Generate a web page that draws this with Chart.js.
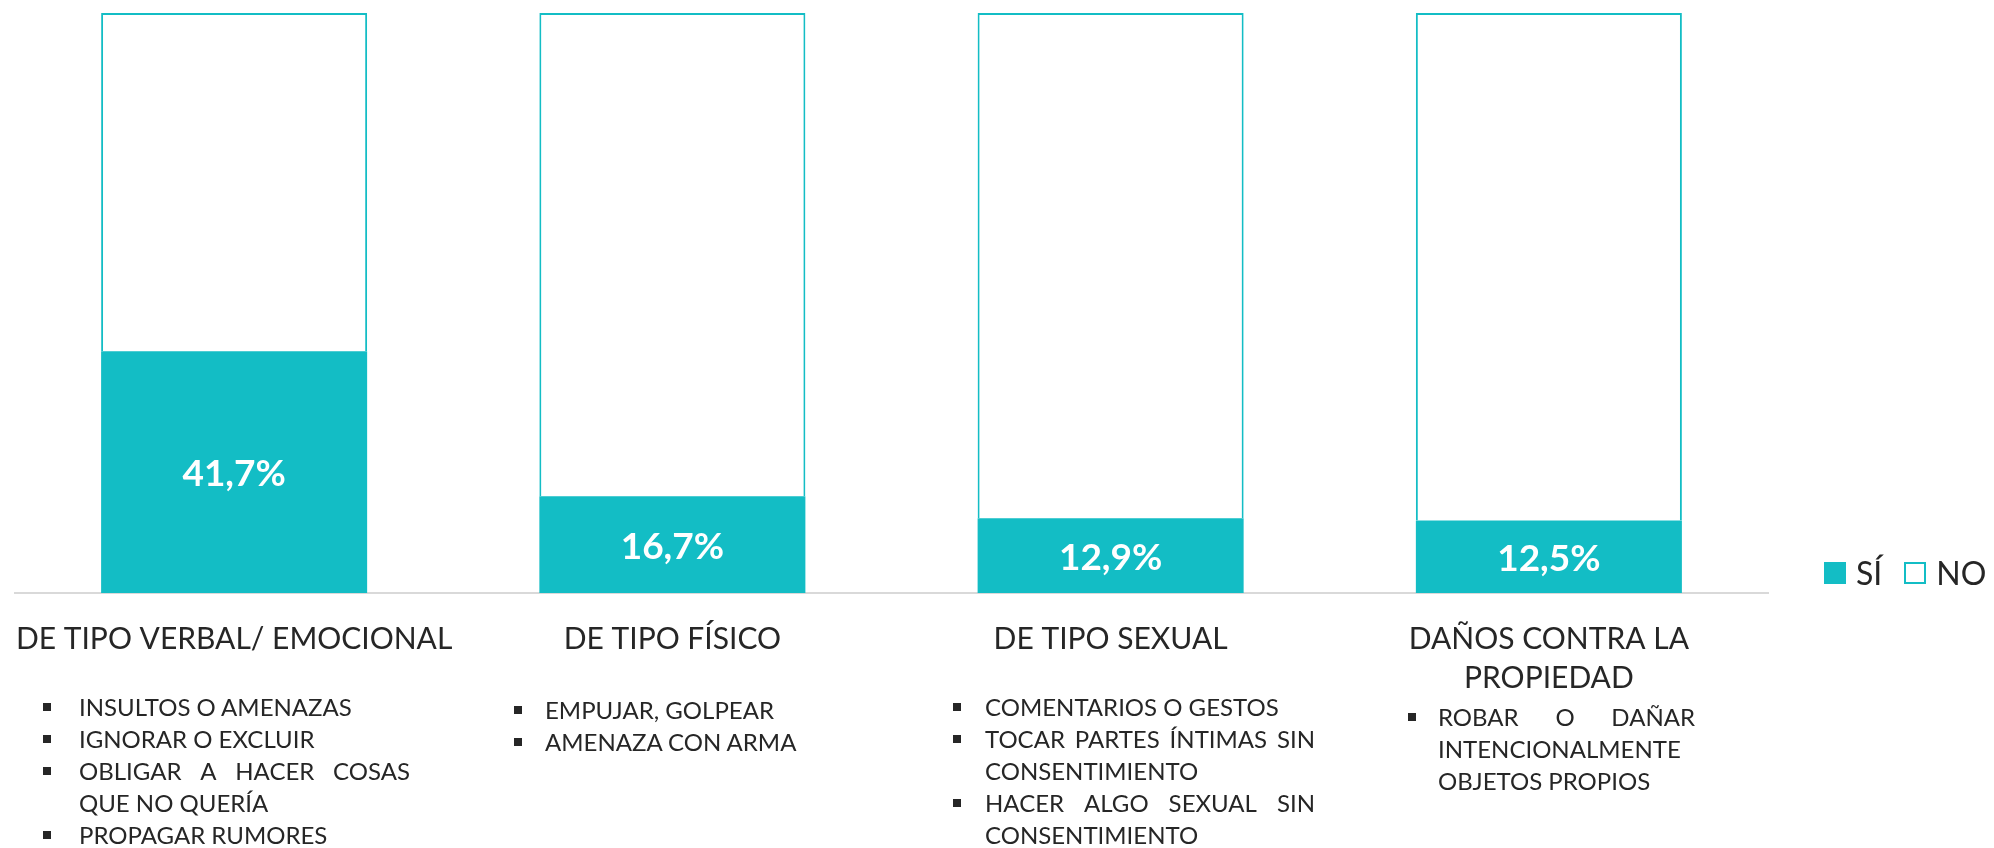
<!DOCTYPE html>
<html lang="es">
<head>
    <meta charset="UTF-8">
    <title>Tipos de violencia</title>
    <script src="https://cdn.jsdelivr.net/npm/chart.js"></script>
    <style>
        body {
            margin: 0;
            background: #fff;
            font-family: Lato, sans-serif;
            color: #262626;
        }
        .lienzo {
            position: relative;
            width: 1994px;
            height: 848px;
            overflow: hidden;
        }
        .lista {
            position: absolute;
            font-size: 24px;
            line-height: 32px;
        }
        .linea {
            white-space: nowrap;
            height: 32px;
        }
        .justificada {
            display: flex;
            justify-content: space-between;
            gap: 6px;
        }
        .vineta {
            position: absolute;
            width: 8px;
            height: 8px;
            background: #262626;
        }
        .leyenda {
            position: absolute;
            left: 1824px;
            top: 556px;
            display: flex;
            align-items: center;
            font-size: 32px;
            line-height: 34px;
        }
        .cuadro {
            width: 22px;
            height: 22px;
            box-sizing: border-box;
            margin-right: 10px;
        }
    </style>
</head>
<body>
<div class="lienzo" id="lienzo">
    <canvas id="grafico"></canvas>
    <div class="leyenda" id="leyenda"></div>
</div>

<script>
    // datos
    const categorias = ['DE TIPO VERBAL/ EMOCIONAL', 'DE TIPO FÍSICO', 'DE TIPO SEXUAL', ['DAÑOS CONTRA LA', 'PROPIEDAD']];
    const series = ['SÍ', 'NO'];
    const valoresSi = [41.7, 16.7, 12.9, 12.5];
    const valoresNo = [58.3, 83.3, 87.1, 87.5];

    // detalle de cada tipo (una línea por elemento del arreglo interno)
    const listaVerbal = [['INSULTOS O AMENAZAS'], ['IGNORAR O EXCLUIR'], ['OBLIGAR A HACER COSAS', 'QUE NO QUERÍA'], ['PROPAGAR RUMORES']];
    const listaFisico = [['EMPUJAR, GOLPEAR'], ['AMENAZA CON ARMA']];
    const listaSexual = [['COMENTARIOS O GESTOS'], ['TOCAR PARTES ÍNTIMAS SIN', 'CONSENTIMIENTO'], ['HACER ALGO SEXUAL SIN', 'CONSENTIMIENTO']];
    const listaDanos = [['ROBAR O DAÑAR', 'INTENCIONALMENTE', 'OBJETOS PROPIOS']];

    const turquesa = '#13BDC5';

    // posiciones de las listas debajo del eje
    const listas = [
        { items: listaVerbal, vineta: 43, texto: 79, ancho: 331, arriba: 691 },
        { items: listaFisico, vineta: 514, texto: 545, ancho: 300, arriba: 694 },
        { items: listaSexual, vineta: 953, texto: 985, ancho: 330, arriba: 691 },
        { items: listaDanos, vineta: 1408, texto: 1438, ancho: 257, arriba: 701 }
    ];

    const lienzo = document.getElementById('lienzo');
    listas.forEach(l => {
        const caja = document.createElement('div');
        caja.className = 'lista';
        caja.style.left = l.texto + 'px';
        caja.style.top = l.arriba + 'px';
        caja.style.width = l.ancho + 'px';
        let fila = 0;
        l.items.forEach(item => {
            const v = document.createElement('div');
            v.className = 'vineta';
            v.style.left = (l.vineta - l.texto) + 'px';
            v.style.top = (fila * 32 + 12) + 'px';
            caja.appendChild(v);
            item.forEach((txt, j) => {
                const d = document.createElement('div');
                if (j < item.length - 1) {
                    // líneas justificadas como en el original
                    d.className = 'linea justificada';
                    txt.split(' ').forEach(p => {
                        const s = document.createElement('span');
                        s.textContent = p;
                        d.appendChild(s);
                    });
                } else {
                    d.className = 'linea';
                    d.textContent = txt;
                }
                caja.appendChild(d);
                fila++;
            });
        });
        lienzo.appendChild(caja);
    });

    // leyenda
    const leyenda = document.getElementById('leyenda');
    series.forEach((s, i) => {
        const c = document.createElement('div');
        c.className = 'cuadro';
        if (i === 0) {
            c.style.background = turquesa;
        } else {
            c.style.background = '#fff';
            c.style.border = '2px solid ' + turquesa;
        }
        const t = document.createElement('span');
        t.textContent = s;
        t.style.marginRight = i === 0 ? '22px' : '0';
        leyenda.appendChild(c);
        leyenda.appendChild(t);
    });

    // etiquetas de porcentaje dentro de las barras "SÍ"
    const etiquetas = {
        id: 'etiquetas',
        afterDatasetsDraw(chart) {
            const ctx = chart.ctx;
            const meta = chart.getDatasetMeta(0);
            ctx.save();
            ctx.fillStyle = '#ffffff';
            ctx.font = 'bold 37px Lato';
            ctx.textAlign = 'center';
            ctx.textBaseline = 'middle';
            meta.data.forEach((barra, i) => {
                const p = barra.getProps(['x', 'y', 'base'], true);
                const txt = valoresSi[i].toFixed(1).replace('.', ',') + '%';
                ctx.fillText(txt, p.x, (p.y + p.base) / 2 + 2);
            });
            ctx.restore();
        }
    };

    function dibujar() {
        new Chart(document.getElementById('grafico'), {
            type: 'bar',
            data: {
                labels: categorias,
                datasets: [
                    {
                        label: series[0],
                        data: valoresSi,
                        backgroundColor: turquesa,
                        borderWidth: 0
                    },
                    {
                        label: series[1],
                        data: valoresNo,
                        backgroundColor: '#ffffff',
                        borderColor: turquesa,
                        borderWidth: 2,
                        borderSkipped: 'bottom'
                    }
                ]
            },
            options: {
                responsive: true,
                maintainAspectRatio: false,
                animation: false,
                layout: {
                    padding: { left: 15, right: 226, top: 13, bottom: 0 }
                },
                datasets: {
                    bar: { categoryPercentage: 1, barPercentage: 0.607 }
                },
                plugins: {
                    legend: { display: false },
                    tooltip: { enabled: false }
                },
                scales: {
                    x: {
                        stacked: true,
                        grid: { display: false },
                        border: { display: true, color: '#D9D9D9', width: 2 },
                        ticks: {
                            color: '#262626',
                            padding: 19,
                            maxRotation: 0,
                            autoSkip: false,
                            font: { family: 'Lato', size: 30, lineHeight: 1.3 }
                        },
                        afterFit: (scale) => {
                            scale.height = 255;
                            // sin margen extra por las etiquetas largas
                            scale.paddingLeft = 0;
                            scale.paddingRight = 0;
                        }
                    },
                    y: {
                        stacked: true,
                        display: false,
                        min: 0,
                        max: 100
                    }
                }
            },
            plugins: [etiquetas]
        });
    }

    document.fonts.load('30px Lato').then(() => document.fonts.load('bold 37px Lato')).then(dibujar, dibujar);
</script>
</body>
</html>
